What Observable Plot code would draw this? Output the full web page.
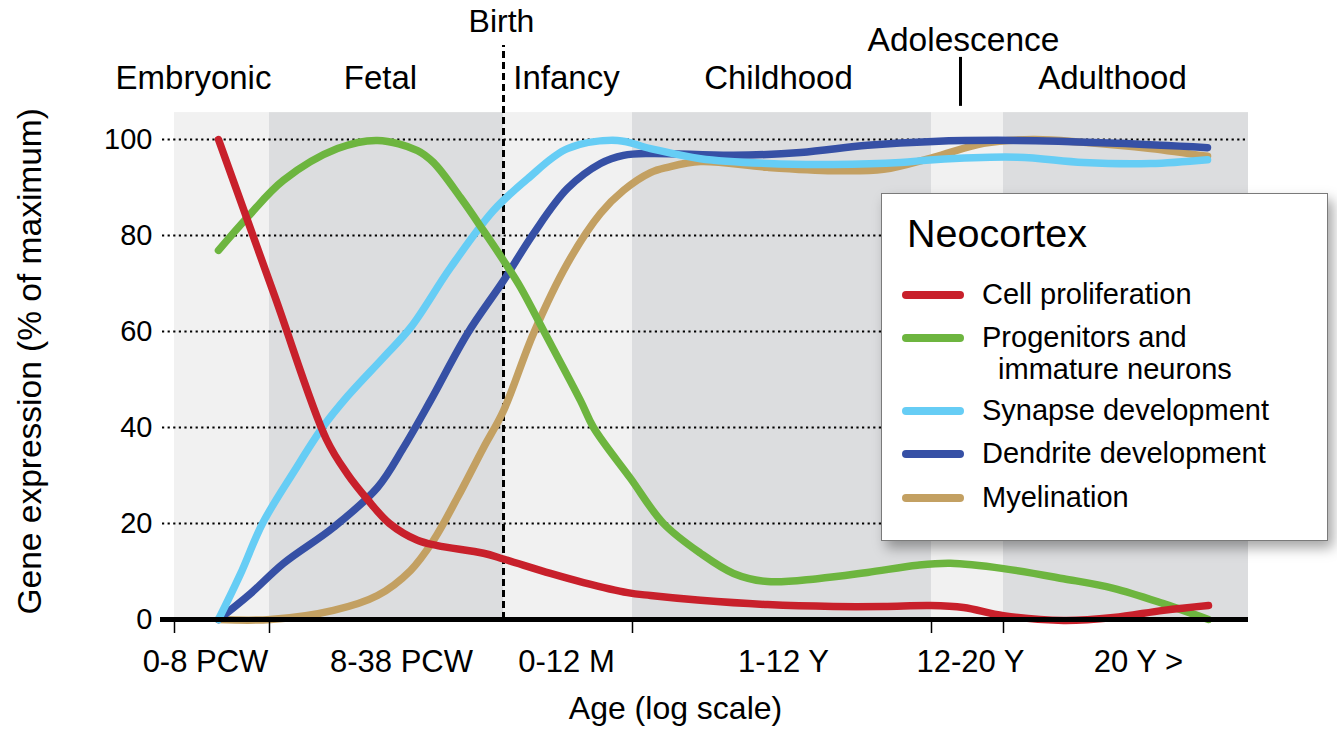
<!DOCTYPE html>
<html>
<head>
<meta charset="utf-8">
<script src="https://cdn.jsdelivr.net/npm/d3@7"></script>
<script src="https://cdn.jsdelivr.net/npm/@observablehq/plot@0.6"></script>
<style>
  html, body { margin: 0; padding: 0; background: #fff; }
  #wrap { position: relative; width: 1337px; height: 731px; font-family: "Liberation Sans", Arial, sans-serif; }
  #legend { position: absolute; left: 881px; top: 193px; width: 445px; height: 346px; background: #fff;
            border: 1.5px solid #7a7a7a; box-shadow: 5px 7px 12px rgba(0,0,0,0.35); }
  #legend .title { position: absolute; left: 25px; top: 16px; font-size: 39.5px; line-height: 46px; color: #000; }
  #legend .sw { position: absolute; left: 20px; width: 62px; height: 7.5px; border-radius: 4px; }
  #legend .lab { position: absolute; left: 100px; font-size: 29px; line-height: 32px; color: #000; white-space: pre; }
</style>
</head>
<body>
<div id="wrap"></div>
<script>
// ---- data (x in arbitrary log-age units along the axis, y in % of maximum) ----
const stageNames  = ["Embryonic", "Fetal", "Infancy", "Childhood", "Adolescence", "Adulthood"];
const stageStart  = [0, 9.5, 32.9, 45.8, 75.7, 82.9];
const stageEnd    = [9.5, 32.9, 45.8, 75.7, 82.9, 107.4];
const stageShade  = ["light", "dark", "light", "dark", "light", "dark"];
const stageLabelX = [1.9, 20.6, 39.2, 60.4, 78.9, 93.8];

const ageTickPos   = [0, 9.5, 45.8, 75.7, 82.9];
const ageLabels    = ["0-8 PCW", "8-38 PCW", "0-12 M", "1-12 Y", "12-20 Y", "20 Y >"];
const ageLabelPos  = [3.1, 22.7, 39.2, 60.9, 79.6, 96.4];
const birthPos     = 32.9;
const adolescenceTick = 78.6;
const yTicks = [0, 20, 40, 60, 80, 100];
const gridTicks = [20, 40, 60, 80, 100];

const seriesNames  = ["Cell proliferation", "Progenitors and\n  immature neurons", "Synapse development", "Dendrite development", "Myelination"];
const seriesColors = ["#c8202b", "#6db53f", "#66cdf5", "#3650a5", "#c3a062"];

const cellProliferation = [
  [4.4, 100], [10.0, 67.5], [15.2, 37.5], [17.3, 30.3], [19.3, 25.0], [21.5, 20.0],
  [24.3, 16.5], [26.3, 15.4], [30.9, 13.8], [32.9, 12.6], [37.6, 9.6], [40.9, 7.7], [45.3, 5.6],
  [47.6, 5.0], [52.6, 4.0], [59.3, 3.1], [65.9, 2.7], [70.9, 2.7], [75.6, 2.9], [78.9, 2.5],
  [82.9, 0.8], [88.9, -0.2], [93.9, 0.4], [98.9, 1.9], [103.4, 2.9]
];
const progenitors = [
  [4.4, 76.9], [7.3, 83.8], [10.9, 91.5], [16.3, 98.1], [20.3, 99.8], [24.3, 97.7], [25.9, 95.2],
  [28.6, 87.9], [30.9, 81.0], [32.9, 74.8], [34.6, 69.2], [36.9, 60.2], [40.6, 45.6], [41.9, 40.0],
  [45.6, 29.4], [48.9, 20.0], [52.6, 13.8], [55.9, 9.6], [59.3, 7.9], [64.3, 8.5],
  [69.3, 9.8], [74.3, 11.3], [77.6, 11.7], [82.9, 10.6], [88.9, 8.5], [93.9, 6.5], [98.9, 3.3], [103.4, 0]
];
const synapse = [
  [4.4, 0], [6.6, 9.5], [8.8, 20.0], [12.0, 31.0], [14.8, 40.0], [17.3, 46.5], [20.9, 54.6],
  [23.6, 60.8], [27.6, 73.3], [31.9, 85.2], [35.3, 91.8], [39.3, 98.1], [44.3, 99.8], [47.6, 98.1],
  [52.6, 96.0], [59.3, 95.0], [65.9, 94.8], [72.6, 95.2], [75.9, 95.8], [84.3, 96.3], [90.9, 95.2],
  [97.6, 95.0], [103.3, 95.8]
];
const dendrite = [
  [4.4, 0], [7.6, 5.4], [10.9, 11.7], [15.9, 19.2], [20.3, 27.5], [22.9, 35.8], [25.6, 45.6],
  [29.3, 59.6], [32.9, 70.6], [35.9, 80.4], [39.3, 89.8], [42.6, 95.0], [44.9, 96.7], [47.6, 97.1],
  [55.9, 96.7], [62.6, 97.3], [69.3, 98.8], [75.9, 99.6], [84.3, 99.8], [94.3, 99.2], [103.3, 98.3]
];
const myelination = [
  [4.4, 0], [9.6, 0], [15.9, 1.9], [20.3, 5.0], [23.6, 10.2], [25.9, 16.5], [28.3, 25.4],
  [30.9, 35.8], [32.9, 43.5], [35.9, 59.6], [39.3, 74.2], [42.6, 84.6], [44.9, 89.4], [47.6, 93.1],
  [49.3, 94.2], [52.6, 95.4], [59.3, 94.2], [65.9, 93.5], [70.9, 93.8], [75.9, 96.3], [80.9, 99.2],
  [85.9, 100], [90.9, 99.4], [97.6, 98.1], [103.3, 96.5]
];
const seriesValues = [cellProliferation, progenitors, synapse, dendrite, myelination];
const drawOrder = [4, 3, 2, 1, 0];

// ---- build tables ----
const stages = stageNames.map((name, i) => ({name, start: stageStart[i], end: stageEnd[i], shade: stageShade[i], lx: stageLabelX[i]}));
const lineData = drawOrder.flatMap(s => seriesValues[s].map(([x, y]) => ({series: seriesNames[s], x, y})));

const font = "'Liberation Sans', Arial, sans-serif";

const chart = Plot.plot({
  width: 1337,
  height: 731,
  marginTop: 139,
  marginBottom: 112,
  marginLeft: 162,
  marginRight: 89,
  style: {fontFamily: font, fontSize: "30px", background: "transparent", color: "#000", overflow: "visible"},
  x: {domain: [-1.2, 107.4], axis: null},
  y: {domain: [0, 100], axis: null},
  color: {domain: seriesNames, range: seriesColors},
  marks: [
    Plot.rect(stages.filter(d => d.shade === "light"), {x1: "start", x2: "end", y1: 0, y2: 105.6, fill: "#f1f1f1"}),
    Plot.rect(stages.filter(d => d.shade === "dark"), {x1: "start", x2: "end", y1: 0, y2: 105.6, fill: "#dcdddf"}),
    Plot.gridY(gridTicks, {stroke: "#000", strokeOpacity: 1, strokeWidth: 2.2, strokeDasharray: "2.2,3.4"}),
    Plot.ruleX([birthPos], {y1: 0, y2: 119.6, stroke: "#000", strokeWidth: 3, strokeDasharray: "7,4"}),
    Plot.ruleX([adolescenceTick], {y1: 106.9, y2: 117.1, stroke: "#000", strokeWidth: 3}),
    Plot.line(lineData, {x: "x", y: "y", z: "series", stroke: "series", curve: "catmull-rom",
      strokeWidth: 7.5, strokeLinecap: "round", strokeLinejoin: "round"}),
    Plot.ruleY([0], {x1: -1.4, x2: 107.4, stroke: "#000", strokeWidth: 5}),
    Plot.axisX(ageTickPos, {tickSize: 14, tickFormat: () => "", strokeWidth: 1.5}),
    Plot.axisX(ageLabelPos, {tickSize: 0, tickPadding: 30, fontSize: 31, tickFormat: (d, i) => ageLabels[i]}),
    Plot.axisY(yTicks, {tickSize: 0, tickPadding: 10, fontSize: 29, label: null}),
    Plot.text(stages.filter(d => d.name !== "Adolescence"), {x: "lx", y: 110.6, text: "name", fontSize: 33, lineAnchor: "bottom"}),
    Plot.text(stages.filter(d => d.name === "Adolescence"), {x: "lx", y: 118.5, text: "name", fontSize: 33.5, lineAnchor: "bottom"}),
    Plot.text(["Birth"], {x: birthPos - 0.2, y: 122.3, text: d => d, fontSize: 32, lineAnchor: "bottom"}),
    Plot.text(["Age (log scale)"], {x: 50.1, y: -20.8, text: d => d, fontSize: 32, lineAnchor: "bottom"}),
    Plot.text(["Gene expression (% of maximum)"], {x: -13.4, y: 53.8, text: d => d, fontSize: 33.5, rotate: -90, lineAnchor: "bottom"})
  ]
});

const wrap = document.getElementById("wrap");
wrap.appendChild(chart);

// ---- legend (HTML overlay) ----
const legend = document.createElement("div");
legend.id = "legend";
const title = document.createElement("div");
title.className = "title";
title.textContent = "Neocortex";
legend.appendChild(title);
const swatchTop = [101, 144, 217, 260, 304];
seriesNames.forEach((name, i) => {
  const sw = document.createElement("div");
  sw.className = "sw";
  sw.style.top = (swatchTop[i] - 3.75) + "px";
  sw.style.background = seriesColors[i];
  legend.appendChild(sw);
  const lab = document.createElement("div");
  lab.className = "lab";
  lab.style.top = (swatchTop[i] - 17) + "px";
  lab.textContent = name;
  legend.appendChild(lab);
});
wrap.appendChild(legend);
</script>
</body>
</html>
